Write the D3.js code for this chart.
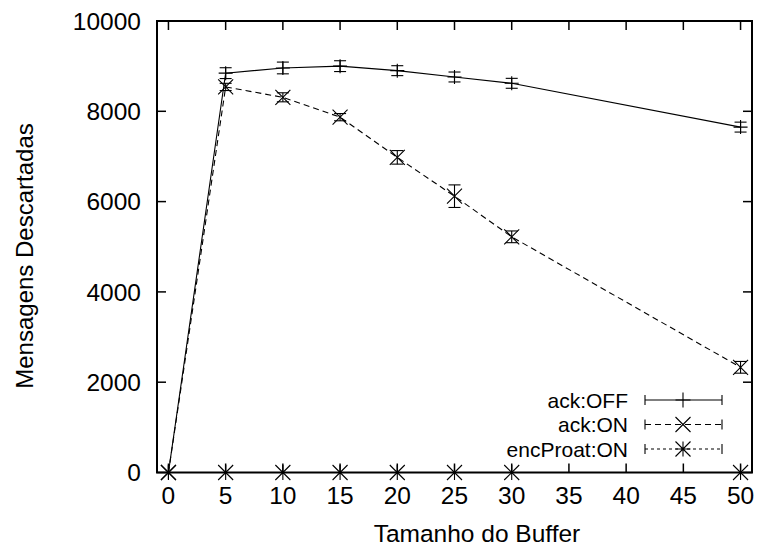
<!DOCTYPE html>
<html><head><meta charset="utf-8">
<script src="https://cdn.jsdelivr.net/npm/d3@7"></script>
<style>
body{margin:0;background:#fff;}
text{font-family:"Liberation Sans",Arial,Helvetica,sans-serif;fill:#000;}
</style></head>
<body>
<svg id="chart" width="760" height="549"></svg>
<script>
// ---- data ----
const bufferSizes = [0, 5, 10, 15, 20, 25, 30, 50];
const ackOff      = [0, 8845, 8960, 9000, 8900, 8760, 8620, 7650];
const ackOffErr   = [0, 120, 130, 120, 110, 110, 110, 110];
const ackOn       = [0, 8540, 8310, 7870, 6980, 6120, 5220, 2330];
const ackOnErr    = [0, 80, 100, 80, 150, 250, 130, 130];
const encProat    = [0, 0, 0, 0, 0, 0, 0, 0];
const encProatErr = [0, 0, 0, 0, 0, 0, 0, 0];
const seriesNames = ["ack:OFF", "ack:ON", "encProat:ON"];
const xTicks = [0, 5, 10, 15, 20, 25, 30, 35, 40, 45, 50];
const yTicks = [0, 2000, 4000, 6000, 8000, 10000];
const xTitle = "Tamanho do Buffer";
const yTitle = "Mensagens Descartadas";

const svg = d3.select("#chart");
const L = 157, R = 752, T = 21, B = 472.5;
const FS = 24.5;
const x = d3.scaleLinear().domain([-1, 51]).range([L, R]);
const y = d3.scaleLinear().domain([0, 10000]).range([B, T]);

const series = [
  {name: seriesNames[0], vals: ackOff, err: ackOffErr, dash: null, marker: "plus"},
  {name: seriesNames[1], vals: ackOn, err: ackOnErr, dash: "6,4", marker: "cross"},
  {name: seriesNames[2], vals: encProat, err: encProatErr, dash: "3,3", marker: "star"}
];

function markerPath(type, s) {
  const p = d3.path();
  if (type === "plus" || type === "star") {
    p.moveTo(-s, 0); p.lineTo(s, 0);
    p.moveTo(0, -s); p.lineTo(0, s);
  }
  if (type === "cross" || type === "star") {
    p.moveTo(-s, -s); p.lineTo(s, s);
    p.moveTo(-s, s); p.lineTo(s, -s);
  }
  return p.toString();
}

// ticks (inward, mirrored)
const tl = 9;
const g = svg.append("g");
xTicks.forEach(t => {
  g.append("line").attr("x1", x(t)).attr("x2", x(t)).attr("y1", B).attr("y2", B - tl).attr("stroke", "#000").attr("stroke-width", 1.5);
  g.append("line").attr("x1", x(t)).attr("x2", x(t)).attr("y1", T).attr("y2", T + tl).attr("stroke", "#000").attr("stroke-width", 1.5);
  g.append("text").attr("x", x(t)).attr("y", 504).attr("text-anchor", "middle").attr("font-size", FS).text(t);
});
yTicks.forEach(t => {
  g.append("line").attr("x1", L).attr("x2", L + tl).attr("y1", y(t)).attr("y2", y(t)).attr("stroke", "#000").attr("stroke-width", 1.5);
  g.append("line").attr("x1", R).attr("x2", R - tl).attr("y1", y(t)).attr("y2", y(t)).attr("stroke", "#000").attr("stroke-width", 1.5);
  g.append("text").attr("x", 141).attr("y", y(t) + 8.7).attr("text-anchor", "end").attr("font-size", FS).text(t);
});

// titles
svg.append("text").attr("x", 477).attr("y", 542).attr("text-anchor", "middle").attr("font-size", FS).text(xTitle);
svg.append("text").attr("transform", `translate(33,256) rotate(-90)`).attr("text-anchor", "middle").attr("font-size", 24).text(yTitle);

// series
series.forEach(s => {
  const pts = bufferSizes.map((b, i) => ({x: b, y: s.vals[i], e: s.err[i]}));
  const line = d3.line().x(d => x(d.x)).y(d => y(d.y));
  svg.append("path").attr("d", line(pts)).attr("fill", "none").attr("stroke", "#000").attr("stroke-width", 1.1)
     .attr("stroke-dasharray", s.dash);
  const eg = svg.append("g");
  pts.forEach(d => {
    if (d.e > 0) {
      const cx = x(d.x), y1 = y(d.y - d.e), y2 = y(d.y + d.e);
      eg.append("line").attr("x1", cx).attr("x2", cx).attr("y1", y1).attr("y2", y2).attr("stroke", "#000").attr("stroke-width", 1.1);
      [y1, y2].forEach(yy => eg.append("line").attr("x1", cx - 6).attr("x2", cx + 6).attr("y1", yy).attr("y2", yy).attr("stroke", "#000").attr("stroke-width", 1.1));
    }
    eg.append("path").attr("d", markerPath(s.marker, s.marker === "plus" ? 7 : 7.5))
      .attr("transform", `translate(${x(d.x)},${y(d.y)})`).attr("fill", "none").attr("stroke", "#000").attr("stroke-width", 1.1);
  });
});

// legend
const legY = [400, 424.5, 449];
const LFS = 21;
series.forEach((s, i) => {
  const ly = legY[i];
  svg.append("text").attr("x", 628).attr("y", ly + 7.5).attr("text-anchor", "end").attr("font-size", LFS).text(s.name);
  svg.append("line").attr("x1", 645).attr("x2", 722).attr("y1", ly).attr("y2", ly).attr("stroke", "#000").attr("stroke-width", 1.1).attr("stroke-dasharray", s.dash);
  [645, 722].forEach(xx => svg.append("line").attr("x1", xx).attr("x2", xx).attr("y1", ly - 5).attr("y2", ly + 5).attr("stroke", "#000").attr("stroke-width", 1.1));
  svg.append("path").attr("d", markerPath(s.marker, 7.5)).attr("transform", `translate(683,${ly})`).attr("fill", "none").attr("stroke", "#000").attr("stroke-width", 1.1);
});

// border
svg.append("rect").attr("x", L).attr("y", T).attr("width", R - L).attr("height", B - T).attr("fill", "none").attr("stroke", "#000").attr("stroke-width", 2);
</script>
</body></html>
